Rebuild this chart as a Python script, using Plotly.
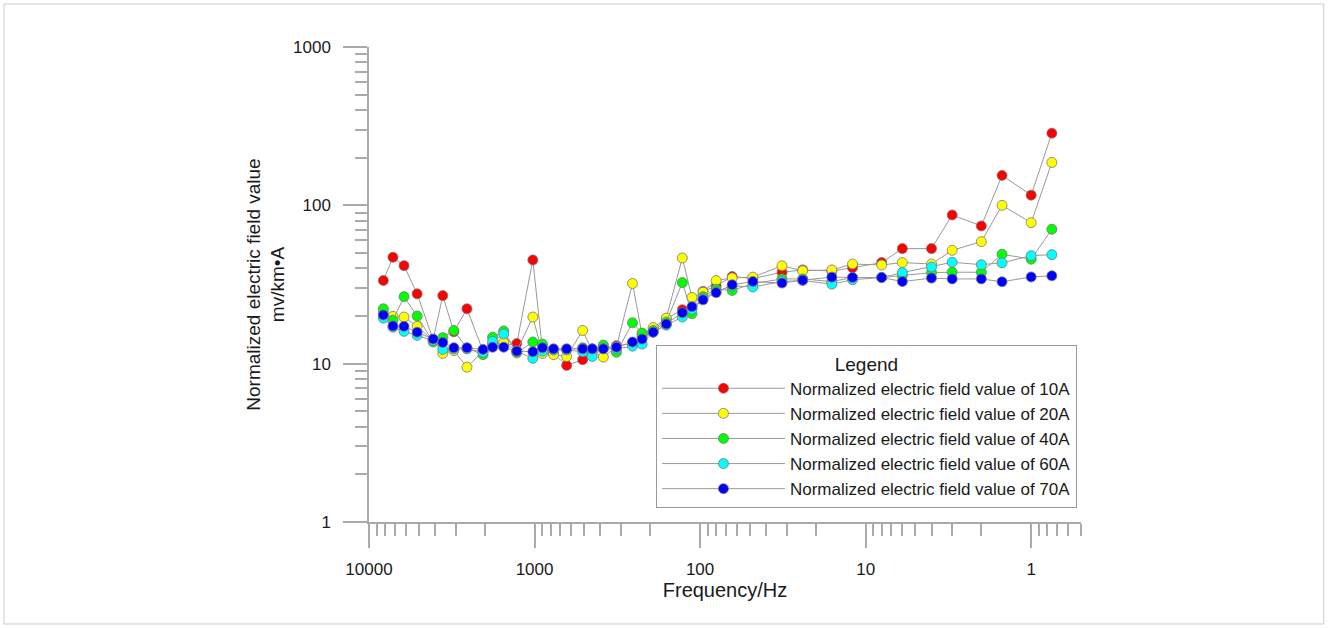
import plotly.graph_objects as go

freq = [8192, 7168, 6144, 5120, 4096, 3584, 3072, 2560, 2048, 1792, 1536, 1280, 1024, 896,
        768, 640, 512, 448, 384, 320, 256, 224, 192, 160, 128, 112, 96, 80, 64, 48, 32, 24,
        16, 12, 8, 6, 4, 3, 2, 1.5, 1, 0.75]

v10 = [33.5, 47, 41.6, 27.6, 14.2, 26.9, 15.9, 22.2, 12.0, 13.0, 13.0, 13.4, 45.2, 12.2,
       11.6, 9.75, 10.6, 12.2, 12.6, 13.0, 13.4, 14.8, 16.3, 19.2, 21.9, 22.5, 28.6, 31.0,
       35.5, 34.5, 37.8, 39.1, 38.5, 40.4, 43.5, 53.3, 53.3, 86.9, 74.1, 154.5, 116, 285.5]
v20 = [21.0, 19.9, 19.7, 17.2, 14.0, 11.6, 12.1, 9.5, 12.0, 13.2, 13.7, 12.0, 19.7, 11.6,
       11.4, 11.1, 16.2, 12.0, 11.0, 12.8, 32.1, 15.2, 16.9, 19.4, 46.5, 26.2, 28.3, 33.5,
       34.8, 35.2, 41.5, 38.6, 39.1, 42.6, 42.0, 43.5, 42.6, 52.0, 59.0, 100, 77.7, 186.6]
v40 = [22.2, 18.8, 26.5, 20.0, 13.7, 14.6, 16.2, 12.5, 11.4, 14.7, 16.1, 11.7, 13.7, 13.3,
       12.3, 12.3, 12.6, 12.4, 13.1, 11.8, 18.1, 15.6, 16.2, 18.3, 32.5, 20.7, 26.5, 29.5,
       29.0, 32.0, 34.3, 34.3, 33.0, 35.0, 35.0, 35.9, 37.6, 37.8, 37.8, 49.1, 45.7, 70.6]
v60 = [19.4, 17.0, 16.0, 15.1, 14.0, 12.3, 12.4, 12.4, 11.8, 13.8, 15.4, 12.0, 10.8, 12.0,
       12.2, 12.2, 11.9, 11.1, 12.5, 12.4, 12.9, 13.3, 15.8, 17.5, 19.7, 22.0, 25.8, 28.5,
       31.0, 30.5, 33.0, 33.5, 31.8, 33.9, 35.0, 37.6, 40.8, 43.7, 42.2, 43.3, 48.1, 48.8]
v70 = [20.3, 17.3, 17.2, 15.8, 14.3, 13.6, 12.6, 12.6, 12.3, 12.7, 12.7, 12.0, 11.9, 12.6,
       12.4, 12.4, 12.4, 12.4, 12.4, 12.7, 13.7, 14.3, 15.8, 17.8, 21.0, 22.9, 25.3, 28.1,
       31.5, 33.0, 32.3, 33.7, 35.2, 35.0, 35.0, 33.0, 34.7, 34.3, 34.3, 32.9, 35.3, 35.9]

series_names = ["Normalized electric field value of 10A", "Normalized electric field value of 20A",
                "Normalized electric field value of 40A", "Normalized electric field value of 60A",
                "Normalized electric field value of 70A"]
series_values = [v10, v20, v40, v60, v70]
series_colors = ["#FF0000", "#FFFF00", "#00FF00", "#00FFFF", "#0000FF"]

x_tickvals = [10000, 1000, 100, 10, 1]
x_ticktext = ["10000", "1000", "100", "10", "1"]
y_tickvals = [1, 10, 100, 1000]
y_ticktext = ["1", "10", "100", "1000"]

FONT = "Arial, Liberation Sans, sans-serif"
AXC = "#AAAAAA"
TXT = "#1a1a1a"

fig = go.Figure()
for name, vals, col in zip(series_names, series_values, series_colors):
    fig.add_trace(go.Scatter(
        x=freq, y=vals, name=name, mode="lines+markers",
        line=dict(color="#999999", width=1),
        marker=dict(size=10, color=col, line=dict(color="#777777", width=0.8)),
        cliponaxis=False,
    ))

x_minor = [m * 10 ** e for e in range(-1, 4) for m in range(2, 10) if 0.5 <= m * 10 ** e < 10000]
y_minor = [m * 10 ** e for e in range(0, 3) for m in range(2, 10)]

fig.update_layout(
    width=1328, height=628,
    paper_bgcolor="white", plot_bgcolor="white",
    margin=dict(l=369, r=247, t=47, b=106),
    font=dict(family=FONT, color=TXT, size=16),
    showlegend=True,
    legend=dict(
        x=0.403, y=0.3726, xanchor="left", yanchor="top",
        bordercolor="#999999", borderwidth=1, bgcolor="white",
        font=dict(size=17, family=FONT, color=TXT),
        title=dict(text="Legend", side="top center", font=dict(size=19, family=FONT, color=TXT)),
        itemwidth=123, tracegroupgap=0,
    ),
    xaxis=dict(
        type="log", range=[4, -0.30103], autorange=False,
        tickvals=x_tickvals, ticktext=x_ticktext,
        ticks="outside", ticklen=24, tickwidth=1.5, tickcolor=AXC,
        showline=True, linecolor=AXC, linewidth=1.5,
        showgrid=False, zeroline=False,
        ticklabelstandoff=7,
        tickfont=dict(size=17, family=FONT, color=TXT),
        minor=dict(tickvals=x_minor, ticks="outside", ticklen=12, tickwidth=1.5,
                   tickcolor=AXC, showgrid=False),
        title=dict(text="Frequency/Hz", font=dict(size=20, family=FONT, color=TXT), standoff=3),
    ),
    yaxis=dict(
        type="log", range=[0, 3], autorange=False,
        tickvals=y_tickvals, ticktext=y_ticktext,
        ticks="outside", ticklen=24, tickwidth=1.5, tickcolor=AXC,
        showline=True, linecolor=AXC, linewidth=1.5,
        showgrid=False, zeroline=False,
        ticklabelstandoff=9,
        tickfont=dict(size=17, family=FONT, color=TXT),
        minor=dict(tickvals=y_minor, ticks="outside", ticklen=12, tickwidth=1.5,
                   tickcolor=AXC, showgrid=False),
        title=dict(text="Normalized electric field value<br>mv/km•A",
                   font=dict(size=19, family=FONT, color=TXT), standoff=3),
    ),
    shapes=[
        dict(type="line", xref="paper", yref="paper", x0=-0.0337, x1=0, y0=0, y1=0,
             line=dict(color=AXC, width=1.5)),
        dict(type="line", xref="paper", yref="paper", x0=0, x1=0, y0=0, y1=-0.0484,
             line=dict(color=AXC, width=1.5)),
        dict(type="rect", xref="paper", yref="paper", x0=-0.5126, x1=1.341, y0=-0.2147, y1=1.0905,
             line=dict(color="#CCCCCC", width=1)),
    ],
)

fig.write_html("out.html", config={"displayModeBar": False},
               post_script="document.body.style.margin='0';document.body.style.overflow='hidden';")
